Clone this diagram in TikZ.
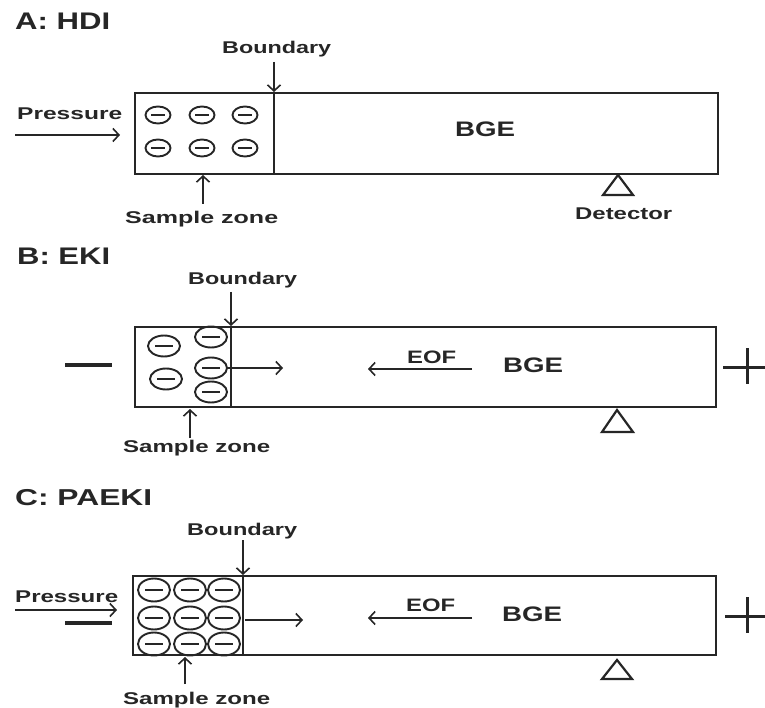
\documentclass[tikz,border=0pt]{standalone}
\usepackage{fontspec}
\setmainfont{Liberation Sans}
\usetikzlibrary{arrows.meta,shapes.geometric}
\newcommand{\fw}[3]{\resizebox{#1pt}{\height}{\fontsize{#2pt}{#2pt}\selectfont\bfseries #3}}
\begin{document}
\begin{tikzpicture}[x=1pt,y=-1pt,
  tube/.style={line width=2.2pt, draw=black!85},
  arr/.style={line width=1.6pt, draw=black!85, -{Straight Barb[length=6pt,width=13pt,line width=1.6pt]}},
  lbl/.style={inner sep=0pt, anchor=base west, text=black!85},
  pole/.style={line width=3.4pt, draw=black!85},
  ionbase/.style={ellipse, draw=black!85, line width=1.9pt, inner sep=0pt},
  ionA/.style={ionbase, minimum width=25pt, minimum height=17pt,
    path picture={\draw[line width=1.6pt,black!85] ([xshift=-7pt]path picture bounding box.center) -- ([xshift=7pt]path picture bounding box.center);}},
  ionB/.style={ionbase, minimum width=32pt, minimum height=21pt,
    path picture={\draw[line width=1.8pt,black!85] ([xshift=-9pt]path picture bounding box.center) -- ([xshift=9pt]path picture bounding box.center);}},
  ionC/.style={ionbase, minimum width=32pt, minimum height=23pt,
    path picture={\draw[line width=1.8pt,black!85] ([xshift=-9pt]path picture bounding box.center) -- ([xshift=9pt]path picture bounding box.center);}}
]
\useasboundingbox[fill=white] (0,0) rectangle (765,708);

% ================= Panel A =================
\node[lbl] (Atitle) at (15,30) {\fw{95}{24}{A: HDI}};
\draw[tube] (135,93) rectangle (718,174);
\draw[tube] (274,93) -- (274,174);
\node[lbl] (Abndlbl) at (222,54) {\fw{109}{17}{Boundary}};
\coordinate (AbndS) at (274,62);
\coordinate (AbndE) at (274,92);
\draw[arr] (AbndS) -- (AbndE);
\node[lbl] (Apress) at (17,120) {\fw{105}{17}{Pressure}};
\coordinate (ApS) at (15,135);
\coordinate (ApE) at (120,135);
\draw[arr] (ApS) -- (ApE);
\node[ionA] (a1) at (158,115) {};
\node[ionA] (a2) at (202,115) {};
\node[ionA] (a3) at (245,115) {};
\node[ionA] (a4) at (158,148) {};
\node[ionA] (a5) at (202,148) {};
\node[ionA] (a6) at (245,148) {};
\node[lbl] (Asz) at (125,224) {\fw{153}{17}{Sample zone}};
\coordinate (AszS) at (203,204);
\coordinate (AszE) at (203,175);
\draw[arr] (AszS) -- (AszE);
\node[lbl] (Abge) at (455,137) {\fw{60}{21}{BGE}};
\draw[tube] (618,175) -- (633,195) -- (603,195) -- cycle;
\node[lbl] (Adet) at (575,220) {\fw{97}{17}{Detector}};

% ================= Panel B =================
\node[lbl] (Btitle) at (17,265) {\fw{93}{24}{B: EKI}};
\draw[tube] (135,327) rectangle (716,407);
\draw[tube] (231,327) -- (231,407);
\node[lbl] (Bbndlbl) at (188,285) {\fw{109}{17}{Boundary}};
\coordinate (BbndS) at (231,292);
\coordinate (BbndE) at (231,326);
\draw[arr] (BbndS) -- (BbndE);
\draw[pole] (65,365) -- (112,365);
\node[ionB] (b1) at (164,346) {};
\node[ionB] (b2) at (166,379) {};
\node[ionB] (b3) at (211,337) {};
\node[ionB] (b4) at (211,368) {};
\node[ionB] (b5) at (211,392) {};
\coordinate (BmigE) at (283,368);
\draw[arr] (b4.east) -- (BmigE);
\node[lbl] (Beof) at (407,363) {\fw{49}{18}{EOF}};
\coordinate (BeofS) at (472,369);
\coordinate (BeofE) at (368,369);
\draw[arr] (BeofS) -- (BeofE);
\node[lbl] (Bbge) at (503,372) {\fw{60}{21}{BGE}};
\draw[pole, line width=3pt] (723,367) -- (765,367);
\draw[pole, line width=3pt] (747,348) -- (747,384);
\draw[tube] (617,410) -- (633,432) -- (602,432) -- cycle;
\node[lbl] (Bsz) at (123,452) {\fw{147}{17}{Sample zone}};
\coordinate (BszS) at (190,438);
\coordinate (BszE) at (190,409);
\draw[arr] (BszS) -- (BszE);

% ================= Panel C =================
\node[lbl] (Ctitle) at (15,505) {\fw{137}{23}{C: PAEKI}};
\draw[tube] (133,576) rectangle (716,655);
\draw[tube] (243,576) -- (243,655);
\node[lbl] (Cbndlbl) at (187,535) {\fw{110}{17}{Boundary}};
\coordinate (CbndS) at (243,540);
\coordinate (CbndE) at (243,575);
\draw[arr] (CbndS) -- (CbndE);
\node[lbl] (Cpress) at (15,602) {\fw{103}{17}{Pressure}};
\coordinate (CpS) at (15,610);
\coordinate (CpE) at (117,610);
\draw[arr] (CpS) -- (CpE);
\draw[pole] (65,623) -- (112,623);
\node[ionC] (c1) at (154,590) {};
\node[ionC] (c2) at (190,590) {};
\node[ionC] (c3) at (224,590) {};
\node[ionC] (c4) at (154,618) {};
\node[ionC] (c5) at (190,618) {};
\node[ionC] (c6) at (224,618) {};
\node[ionC] (c7) at (154,644) {};
\node[ionC] (c8) at (190,644) {};
\node[ionC] (c9) at (224,644) {};
\coordinate (CmigS) at (245,620);
\coordinate (CmigE) at (303,620);
\draw[arr] (CmigS) -- (CmigE);
\node[lbl] (Ceof) at (406,611) {\fw{49}{18}{EOF}};
\coordinate (CeofS) at (472,618);
\coordinate (CeofE) at (368,618);
\draw[arr] (CeofS) -- (CeofE);
\node[lbl] (Cbge) at (502,621) {\fw{60}{21}{BGE}};
\draw[pole, line width=3pt] (725,616) -- (765,616);
\draw[pole, line width=3pt] (747,597) -- (747,633);
\draw[tube] (617,660) -- (632,679) -- (602,679) -- cycle;
\node[lbl] (Csz) at (123,704) {\fw{147}{17}{Sample zone}};
\coordinate (CszS) at (185,684);
\coordinate (CszE) at (185,657);
\draw[arr] (CszS) -- (CszE);
\end{tikzpicture}
\end{document}
